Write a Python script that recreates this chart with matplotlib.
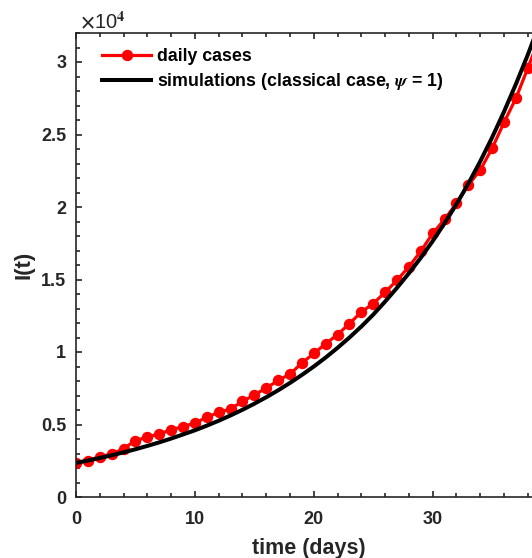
import numpy as np
import matplotlib
matplotlib.use("Agg")
from matplotlib import pyplot as plt
from matplotlib.ticker import MultipleLocator

# daily reported cases
days = list(range(0, 40))
daily_cases = [2370, 2510, 2790, 2950, 3340, 3890, 4130, 4350, 4630, 4860,
               5090, 5510, 5830, 6080, 6590, 7050, 7510, 8040, 8480, 9240,
               9900, 10570, 11200, 11960, 12760, 13340, 14120, 14950, 15880, 16950,
               18180, 19150, 20250, 21520, 22550, 24050, 25830, 27500, 29580, 31700]

# simulated curve, classical case (psi = 1)
sim_t = list(range(0, 41))
sim_I = [2350, 2514, 2689, 2877, 3078, 3293, 3523, 3768, 4031, 4313,
         4600, 4920, 5260, 5625, 6015, 6435, 6880, 7360, 7870, 8420,
         9000, 9620, 10290, 11000, 11760, 12580, 13480, 14430, 15430, 16500,
         17650, 18880, 20200, 21620, 23150, 24800, 26580, 28480, 30500, 32680,
         34980]

xtick_vals = [0, 10, 20, 30, 40]
xtick_text = ['0', '10', '20', '30', '']   # 40 falls outside the cropped picture
ytick_vals = [0, 0.5, 1, 1.5, 2, 2.5, 3]

txt = (0.15, 0.15, 0.15)
plt.rcParams['font.family'] = ['Liberation Sans', 'DejaVu Sans']
plt.rcParams['font.weight'] = 'bold'
plt.rcParams['mathtext.fontset'] = 'stix'

fig = plt.figure(figsize=(5.32, 5.58), dpi=100)
# the right part of the axes (x up to 40) lies outside the cropped figure
ax = fig.add_axes([76/532, 1 - 497/558, 475.6/532, 464/558])

ax.plot(days, daily_cases, '-o', color='red', lw=2.3, ms=7.2, mec='red',
        label='daily cases')
ax.plot(sim_t, sim_I, '-', color='black', lw=2.9,
        label=r'simulations (classical case, $\psi$ = 1)')

ax.set_xlim(0, 40)
ax.set_ylim(0, 32000)
ax.set_xticks(xtick_vals)
ax.set_xticklabels(xtick_text)
ax.xaxis.set_minor_locator(MultipleLocator(2))
ax.set_yticks([v * 1e4 for v in ytick_vals])
ax.set_yticklabels([('%g' % v) for v in ytick_vals])
ax.yaxis.set_minor_locator(MultipleLocator(1000))

ax.tick_params(which='both', direction='in', top=True, right=True,
               colors=txt, labelsize=13, width=1.2)
ax.tick_params(which='major', length=4.5)
ax.tick_params(axis='x', which='major', pad=10)
ax.tick_params(axis='y', which='major', pad=7)
ax.tick_params(which='minor', length=2.8)
for s in ax.spines.values():
    s.set_color(txt)
    s.set_linewidth(1.2)

ax.set_xlabel('time (days)', fontsize=15.5, fontweight='bold', color=txt, labelpad=7)
ax.xaxis.label.set_x(0.489)
ax.set_ylabel('I(t)', fontsize=16, fontweight='bold', color=txt, labelpad=5)
ax.text(0.008, 1.011, r'$\times$10$^4$', transform=ax.transAxes, fontsize=14.5,
        fontweight='normal', color=txt, ha='left', va='baseline')

leg = ax.legend(loc='upper left', bbox_to_anchor=(0.054, 0.968), frameon=False,
                borderpad=0, borderaxespad=0, handlelength=2.8,
                handletextpad=0.3, labelspacing=0.35,
                prop={'size': 12.8, 'weight': 'bold'})
for t in leg.get_texts():
    t.set_color('black')

fig.savefig('out.png', dpi=100)
